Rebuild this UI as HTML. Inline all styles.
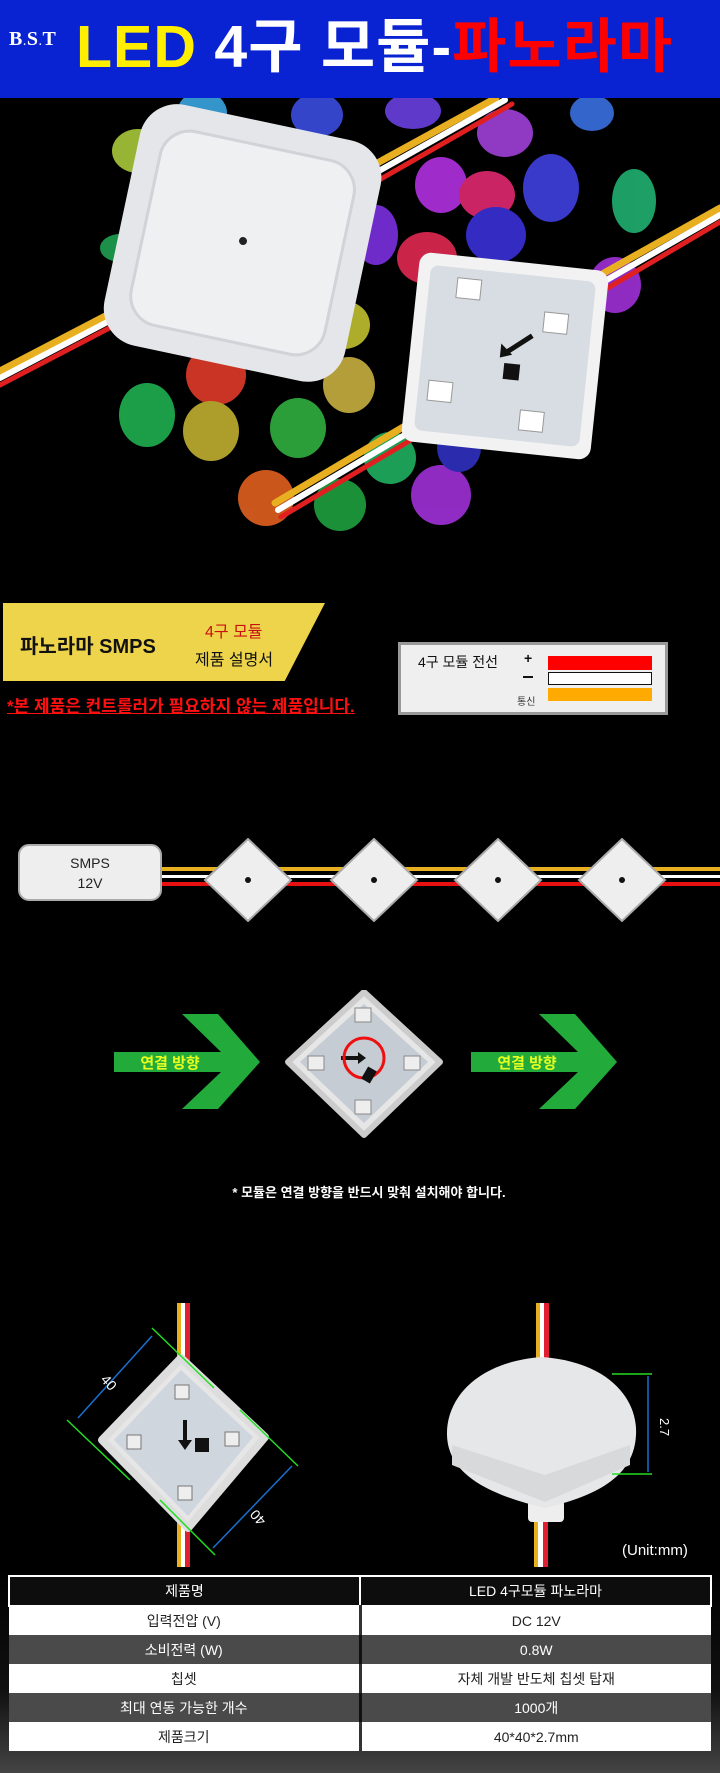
<!DOCTYPE html>
<html><head><meta charset="utf-8"><style>
*{margin:0;padding:0;box-sizing:border-box}
body{width:720px;height:1773px;background:#000;position:relative;overflow:hidden;font-family:"Liberation Sans","Noto Sans CJK KR",sans-serif}
.a{position:absolute}
table{border-collapse:collapse}
</style></head><body>
<div class="a" style="left:0;top:0;width:720px;height:98px;background:#0a23d2"></div>
<div class="a" style="left:9px;top:28px;font:bold 20px 'Liberation Serif',serif;color:#fff;letter-spacing:1px">B<span style="font-size:10px">.</span>S<span style="font-size:10px">.</span>T</div>
<div class="a" style="left:76px;top:14px;font:bold 59px 'Liberation Sans','Noto Sans CJK KR',sans-serif;line-height:66px;white-space:nowrap;letter-spacing:1px"><span style="color:#ffee00">LED</span> <span style="color:#fff">4구 모듈-</span><span style="color:#ff0000">파노라마</span></div>

<svg class="a" style="left:0;top:98px" width="720" height="433" viewBox="0 0 720 433">
<g opacity="0.9">
<ellipse cx="202" cy="15" rx="25" ry="22" fill="#3aa5e0"/>
<ellipse cx="138" cy="53" rx="26" ry="22" fill="#a8c83a"/>
<ellipse cx="317" cy="17" rx="26" ry="22" fill="#3a4de0"/>
<ellipse cx="413" cy="13" rx="28" ry="18" fill="#6a40e0"/>
<ellipse cx="505" cy="35" rx="28" ry="24" fill="#a040d8"/>
<ellipse cx="592" cy="15" rx="22" ry="18" fill="#3a70e0"/>
<ellipse cx="634" cy="103" rx="22" ry="32" fill="#20b070"/>
<ellipse cx="441" cy="87" rx="26" ry="28" fill="#b030e0"/>
<ellipse cx="487" cy="97" rx="28" ry="24" fill="#e02870"/>
<ellipse cx="551" cy="90" rx="28" ry="34" fill="#4040e0"/>
<ellipse cx="376" cy="137" rx="22" ry="30" fill="#7a30e0"/>
<ellipse cx="496" cy="137" rx="30" ry="28" fill="#3a30d8"/>
<ellipse cx="427" cy="160" rx="30" ry="26" fill="#e02850"/>
<ellipse cx="216" cy="277" rx="30" ry="30" fill="#e03a28"/>
<ellipse cx="147" cy="317" rx="28" ry="32" fill="#20b050"/>
<ellipse cx="211" cy="333" rx="28" ry="30" fill="#c0b030"/>
<ellipse cx="298" cy="330" rx="28" ry="30" fill="#30b040"/>
<ellipse cx="349" cy="287" rx="26" ry="28" fill="#c8b040"/>
<ellipse cx="344" cy="227" rx="26" ry="24" fill="#c0c030"/>
<ellipse cx="266" cy="400" rx="28" ry="28" fill="#e06020"/>
<ellipse cx="340" cy="407" rx="26" ry="26" fill="#20a040"/>
<ellipse cx="390" cy="360" rx="26" ry="26" fill="#20b060"/>
<ellipse cx="441" cy="397" rx="30" ry="30" fill="#a030d8"/>
<ellipse cx="615" cy="187" rx="26" ry="28" fill="#a030d8"/>
<ellipse cx="459" cy="350" rx="22" ry="24" fill="#3030c0"/>
<ellipse cx="120" cy="150" rx="20" ry="14" fill="#20a050"/>
</g>
<g stroke-linecap="round">
<path d="M0 273 L140 200" stroke="#e8b020" stroke-width="7"/><path d="M0 280 L140 207" stroke="#fff" stroke-width="6"/><path d="M0 287 L140 214" stroke="#e02020" stroke-width="5"/>
<path d="M350 80 L496 0" stroke="#e8b020" stroke-width="7"/><path d="M354 87 L505 2" stroke="#fff" stroke-width="6"/><path d="M358 94 L512 6" stroke="#e02020" stroke-width="5"/>
<path d="M275 405 L410 325" stroke="#e8b020" stroke-width="7"/><path d="M278 412 L413 332" stroke="#fff" stroke-width="6"/><path d="M281 419 L416 339" stroke="#e02020" stroke-width="5"/>
<path d="M595 180 L720 110" stroke="#e8b020" stroke-width="7"/><path d="M598 187 L720 117" stroke="#fff" stroke-width="6"/><path d="M601 194 L720 124" stroke="#e02020" stroke-width="5"/>
</g>
<g transform="rotate(12 243 143)">
<rect x="120" y="22" width="246" height="246" rx="38" fill="#e4e6ea"/>
<rect x="144" y="46" width="198" height="198" rx="30" fill="#eef0f2" stroke="#d0d3d8" stroke-width="3"/>
<circle cx="243" cy="143" r="4" fill="#222"/>
</g>
<g transform="rotate(6 505 258)">
<rect x="410" y="163" width="190" height="190" rx="12" fill="#f2f2f2"/>
<rect x="422" y="175" width="166" height="166" rx="8" fill="#d8dde3"/>
<rect x="450" y="185" width="24" height="20" fill="#fff" stroke="#999"/><rect x="540" y="210" width="24" height="20" fill="#fff" stroke="#999"/>
<rect x="432" y="290" width="24" height="20" fill="#fff" stroke="#999"/><rect x="526" y="310" width="24" height="20" fill="#fff" stroke="#999"/>
<rect x="505" y="265" width="16" height="16" fill="#111"/>
<path d="M530 235 L505 255" stroke="#111" stroke-width="5"/><path d="M500 260 L500 246 L512 256 Z" fill="#111"/>
</g>
</svg>

<div class="a" style="left:3px;top:603px;width:322px;height:78px;background:#eed44a;clip-path:polygon(0 0,100% 0,87.5% 100%,0 100%)"></div>
<div class="a" style="left:20px;top:630px;font:bold 20px 'Liberation Sans','Noto Sans CJK KR',sans-serif;color:#111">파노라마 SMPS</div>
<div class="a" style="left:205px;top:618px;font:16px 'Liberation Sans','Noto Sans CJK KR',sans-serif;color:#c81010">4구 모듈</div>
<div class="a" style="left:195px;top:646px;font:16px 'Liberation Sans','Noto Sans CJK KR',sans-serif;color:#111">제품 설명서</div>
<div class="a" style="left:7px;top:692px;font:bold 17px 'Liberation Sans','Noto Sans CJK KR',sans-serif;color:#ff1010;text-decoration:underline;white-space:nowrap">*본 제품은 컨트롤러가 필요하지 않는 제품입니다.</div>

<div class="a" style="left:398px;top:642px;width:270px;height:73px;background:#efefef;border:3px solid #999"></div>
<div class="a" style="left:418px;top:652px;font:14px 'Liberation Sans','Noto Sans CJK KR',sans-serif;color:#111">4구 모듈 전선</div>
<div class="a" style="left:524px;top:650px;font:bold 14px sans-serif;color:#111">+</div>
<div class="a" style="left:523px;top:676px;width:10px;height:2px;background:#111"></div>
<div class="a" style="left:517px;top:693px;font:10px 'Liberation Sans','Noto Sans CJK KR',sans-serif;color:#333">통신</div>
<div class="a" style="left:548px;top:656px;width:104px;height:14px;background:#f00"></div>
<div class="a" style="left:548px;top:672px;width:104px;height:13px;background:#fff;border:1px solid #111"></div>
<div class="a" style="left:548px;top:688px;width:104px;height:13px;background:#ffaa00"></div>

<svg class="a" style="left:0;top:838px" width="720" height="84">
<rect x="161" y="29" width="559" height="4" fill="#e8b020"/>
<rect x="161" y="37" width="559" height="3" fill="#fff"/>
<rect x="161" y="44" width="559" height="4" fill="#e81010"/>
<rect x="19" y="7" width="142" height="55" rx="10" fill="#eee" stroke="#aaa" stroke-width="2"/>
<text x="90" y="30" font-family="Liberation Sans,sans-serif" font-size="14" fill="#222" text-anchor="middle">SMPS</text>
<text x="90" y="50" font-family="Liberation Sans,sans-serif" font-size="14" fill="#222" text-anchor="middle">12V</text>
<g fill="#eee" stroke="#aaa" stroke-width="2">
<path d="M248 1 L291 42 L248 83 L205 42 Z"/>
<path d="M374 1 L417 42 L374 83 L331 42 Z"/>
<path d="M498 1 L541 42 L498 83 L455 42 Z"/>
<path d="M622 1 L665 42 L622 83 L579 42 Z"/>
</g>
<g fill="#111"><circle cx="248" cy="42" r="3"/><circle cx="374" cy="42" r="3"/><circle cx="498" cy="42" r="3"/><circle cx="622" cy="42" r="3"/></g>
</svg>

<svg class="a" style="left:0;top:990px" width="720" height="160">
<path d="M114 62 L221 62 L182 24 L218 24 L260 72 L218 119 L182 119 L221 82 L114 82 Z" fill="#22aa3a"/>
<path d="M471 62 L578 62 L539 24 L575 24 L617 72 L575 119 L539 119 L578 82 L471 82 Z" fill="#22aa3a"/>
<text x="170" y="78" font-family="Liberation Sans,Noto Sans CJK KR,sans-serif" font-size="15" font-weight="bold" fill="#e6ff20" text-anchor="middle">연결 방향</text>
<text x="527" y="78" font-family="Liberation Sans,Noto Sans CJK KR,sans-serif" font-size="15" font-weight="bold" fill="#e6ff20" text-anchor="middle">연결 방향</text>
<path d="M364 2 L440 72 L364 145 L288 72 Z" fill="#e6e6e6" stroke="#ccc" stroke-width="6" stroke-linejoin="round"/>
<path d="M364 14 L428 72 L364 133 L300 72 Z" fill="#c6ccd4"/>
<rect x="355" y="18" width="16" height="14" fill="#eee" stroke="#888"/>
<rect x="308" y="66" width="16" height="14" fill="#eee" stroke="#888"/>
<rect x="404" y="66" width="16" height="14" fill="#eee" stroke="#888"/>
<rect x="355" y="110" width="16" height="14" fill="#eee" stroke="#888"/>
<path d="M341 66 L358 66 L358 62 L366 68 L358 74 L358 70 L341 70 Z" fill="#111"/>
<circle cx="364" cy="68" r="20" fill="none" stroke="#ee1010" stroke-width="3"/>
<rect x="364" y="78" width="10" height="14" fill="#111" transform="rotate(30 369 85)"/>
</svg>
<div class="a" style="left:0;top:1182px;width:738px;text-align:center;font:bold 13px 'Liberation Sans','Noto Sans CJK KR',sans-serif;color:#fff">* 모듈은 연결 방향을 반드시 맞춰 설치해야 합니다.</div>

<svg class="a" style="left:0;top:1290px" width="720" height="280">
<rect x="177" y="13" width="4" height="264" fill="#e8b020"/><rect x="181" y="13" width="4" height="264" fill="#fff"/><rect x="185" y="13" width="5" height="264" fill="#e02030"/>
<path d="M181 68 L265 147 L188 238 L102 150 Z" fill="#e6e6e6" stroke="#ddd" stroke-width="8" stroke-linejoin="round"/>
<path d="M181 80 L253 147 L188 226 L114 150 Z" fill="#d0d6de"/>
<rect x="175" y="95" width="14" height="14" fill="#eee" stroke="#777"/>
<rect x="127" y="145" width="14" height="14" fill="#eee" stroke="#777"/>
<rect x="225" y="142" width="14" height="14" fill="#eee" stroke="#777"/>
<rect x="178" y="196" width="14" height="14" fill="#eee" stroke="#777"/>
<rect x="195" y="148" width="14" height="14" fill="#111"/>
<path d="M185 130 L185 152" stroke="#111" stroke-width="4"/><path d="M178 150 L192 150 L185 160 Z" fill="#111"/>
<path d="M152 38 L214 98 M67 130 L130 190 M240 120 L298 176 M160 210 L215 265" stroke="#22dd22" stroke-width="1.5"/>
<path d="M152 46 L78 128 M292 176 L213 258" stroke="#1a70d0" stroke-width="1.5"/>
<text x="100" y="90" font-family="Liberation Sans,sans-serif" font-size="14" fill="#fff" transform="rotate(48 100 90)">40</text>
<text x="255" y="225" font-family="Liberation Sans,sans-serif" font-size="14" fill="#fff" transform="rotate(228 262 225)">40</text>
<rect x="536" y="13" width="4" height="60" fill="#e8b020"/><rect x="540" y="13" width="4" height="60" fill="#fff"/><rect x="544" y="13" width="5" height="60" fill="#e02030"/>
<rect x="534" y="220" width="4" height="57" fill="#e8b020"/><rect x="538" y="220" width="5" height="57" fill="#fff"/><rect x="543" y="220" width="5" height="57" fill="#e02030"/>
<rect x="528" y="210" width="36" height="22" rx="4" fill="#eee"/>
<path d="M542 67 C610 72 638 110 636 145 C634 185 600 205 545 218 C490 205 448 185 447 145 C446 110 475 72 542 67 Z" fill="#e6e7e8"/>
<path d="M452 155 L545 185 L630 155 L630 175 L545 212 L452 175 Z" fill="#d8d9da"/>
<path d="M612 84 L652 84 M612 184 L652 184" stroke="#22dd22" stroke-width="1.5"/>
<path d="M648 86 L648 182" stroke="#1a70d0" stroke-width="1.5"/>
<text x="660" y="128" font-family="Liberation Sans,sans-serif" font-size="13" fill="#fff" transform="rotate(90 660 128)">2.7</text>
<text x="622" y="265" font-family="Liberation Sans,sans-serif" font-size="15" fill="#fff">(Unit:mm)</text>
</svg>

<div class="a" style="left:0;top:1568px;width:720px;height:205px;background:linear-gradient(#000 0%,#111 60%,#444 100%)"></div>
<table class="a" style="left:8px;top:1575px;width:704px;font:14px 'Liberation Sans','Noto Sans CJK KR',sans-serif;text-align:center">
<tr style="background:#0d0d0d;color:#fff;height:30px"><td style="width:351px;border:2px solid #fff">제품명</td><td style="border:2px solid #fff">LED 4구모듈 파노라마</td></tr>
<tr style="background:#fff;color:#222;height:29px"><td style="border-right:3px solid #333">입력전압 (V)</td><td>DC 12V</td></tr>
<tr style="background:#4a4a4a;color:#fff;height:29px"><td style="border-right:3px solid #111">소비전력 (W)</td><td>0.8W</td></tr>
<tr style="background:#fff;color:#222;height:29px"><td style="border-right:3px solid #333">칩셋</td><td>자체 개발 반도체 칩셋 탑재</td></tr>
<tr style="background:#4a4a4a;color:#fff;height:29px"><td style="border-right:3px solid #111">최대 연동 가능한 개수</td><td>1000개</td></tr>
<tr style="background:#fff;color:#222;height:29px"><td style="border-right:3px solid #333">제품크기</td><td>40*40*2.7mm</td></tr>
</table>
</body></html>
